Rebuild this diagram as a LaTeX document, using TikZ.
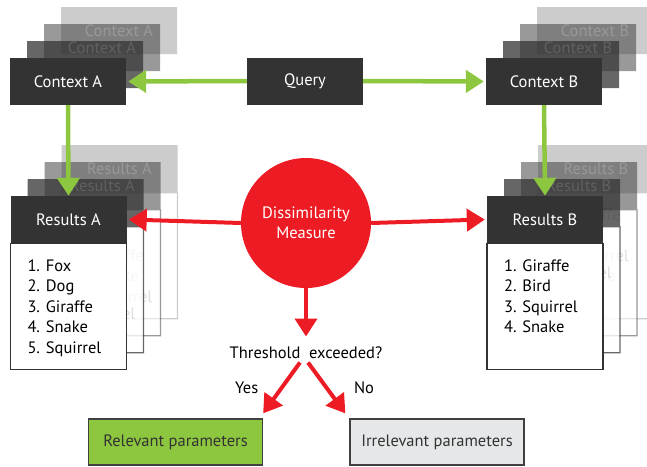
\documentclass[tikz,border=0pt]{standalone}
\usepackage{fontspec}
\setmainfont{PT Sans}
\usepackage{tikz}
\usetikzlibrary{arrows.meta,shapes,positioning}
\definecolor{boxdark}{HTML}{333333}
\definecolor{leafgreen}{HTML}{8DC63F}
\definecolor{alertred}{HTML}{ED1C24}
\definecolor{palegray}{HTML}{E6E7E8}
\definecolor{edgegray}{HTML}{404040}

% stack of context cards: name, centre, label
\newcommand{\contextstack}[3]{%
  \foreach \k/\op in {3/0.25,2/0.5,1/0.75}{
    \begin{scope}[transparency group, opacity=\op, shift={(17*\k,-17*\k)}]
      \node[cardbox] at #2 {#3};
    \end{scope}}
  \node[cardbox] (#1) at #2 {#3};}

% stack of result lists: name, centre of header, label, items
\newcommand{\resultstack}[4]{%
  \foreach \k/\op in {3/0.25,2/0.5,1/0.75}{
    \begin{scope}[transparency group, opacity=\op, shift={(17*\k,-17*\k)}]
      \node[cardbox] (ghost) at #2 {#3};
      \node[listbody, below=0pt of ghost] {};
      \node[listtext, below right=16pt and 17pt of ghost.south west] {#4};
    \end{scope}}
  \node[cardbox] (#1) at #2 {#3};
  \node[listbody, below=0pt of #1] (#1-body) {};
  \node[listtext, below right=16pt and 17pt of #1.south west] (#1-list) {#4};}

\begin{document}
\begin{tikzpicture}[
    x=1pt, y=-1pt,
    cardbox/.style={rectangle, fill=boxdark, text=white, minimum width=116pt, minimum height=47pt, inner sep=0pt, font=\fontsize{16.5}{19}\selectfont},
    listbody/.style={rectangle, draw=boxdark, line width=1.2pt, fill=white, minimum width=116pt, minimum height=126pt, inner sep=0pt},
    listtext/.style={align=left, inner sep=0pt, anchor=north west, font=\fontsize{16.5}{20.5}\selectfont},
    outcome/.style={rectangle, draw=edgegray, line width=1.3pt, text=boxdark, minimum width=174pt, minimum height=46pt, font=\fontsize{16.5}{19}\selectfont},
    plainlabel/.style={text=black, font=\fontsize{16.5}{19}\selectfont},
    greenarrow/.style={-{Triangle[length=18pt,width=22pt]}, line width=4.5pt, leafgreen},
    redarrow/.style={-{Triangle[length=18pt,width=22pt]}, line width=4pt, alertred},
]
\useasboundingbox (0,0) rectangle (647,466);

\contextstack{ctxA}{(68,81.5)}{Context A}
\contextstack{ctxB}{(544,81.5)}{Context B}
\node[cardbox] (query) at (305,81) {Query};

\resultstack{resA}{(68.5,219.5)}{Results A}{1. Fox\\2. Dog\\3. Giraffe\\4. Snake\\5. Squirrel}
\resultstack{resB}{(545,219.5)}{Results B}{1. Giraffe\\2. Bird\\3. Squirrel\\4. Snake}

\node[circle, fill=alertred, text=white, minimum size=130pt, inner sep=0pt, align=center,
      font=\fontsize{16.5}{20}\selectfont] (diss) at (306,223) {Dissimilarity\\Measure};
\node[plainlabel] (thr) at (306,353) {Threshold\ \ exceeded?};

\node[outcome, fill=leafgreen] (rel) at (175.5,442) {Relevant parameters};
\node[outcome, fill=palegray] (irr) at (437,442) {Irrelevant parameters};

\draw[greenarrow] (query.west) -- ([xshift=2pt]ctxA.east);
\draw[greenarrow] (query.east) -- ([xshift=-2pt]ctxB.west);
\draw[greenarrow] (ctxA.south) -- (resA.north);
\draw[greenarrow] (ctxB.south) -- (resB.north);
\draw[redarrow] (diss.west) -- ([xshift=2pt]resA.east);
\draw[redarrow] (diss.east) -- ([xshift=-2pt]resB.west);
\draw[redarrow] (diss.south) -- ([yshift=7pt]thr.north);
\draw[redarrow] ([xshift=-6pt]thr.south) -- node[pos=0.5, left=18pt, plainlabel] {Yes} ([yshift=5pt]rel.north east);
\draw[redarrow] ([xshift=2pt]thr.south) -- node[pos=0.5, right=22pt, plainlabel] {No} ([xshift=-4pt,yshift=5pt]irr.north west);
\end{tikzpicture}
\end{document}
